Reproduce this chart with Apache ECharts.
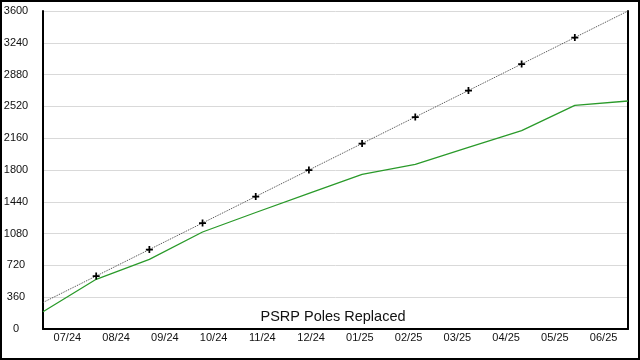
<!DOCTYPE html>
<html>
<head>
<meta charset="utf-8">
<script src="https://cdn.jsdelivr.net/npm/echarts@6/dist/echarts.min.js"></script>
<style>
html,body{margin:0;padding:0;background:#fff;}
#c{width:640px;height:360px;}
</style>
</head>
<body>
<div id="c"></div>
<script>
var months = ['07/24','08/24','09/24','10/24','11/24','12/24','01/25','02/25','03/25','04/25','05/25','06/25'];
var replaced = [196, 563, 789, 1098, 1319, 1536, 1751, 1864, 2055, 2245, 2532, 2581];
var target = [300, 600, 900, 1200, 1500, 1800, 2100, 2400, 2700, 3000, 3300, 3600];
var titleText = 'PSRP Poles Replaced';

var plus = 'path://M3,0h2v3h3v2h-3v3h-2v-3h-3v-2h3z';
var targetData = target.map(function (v, i) {
  if (i === 0 || i === target.length - 1) return { value: v, symbol: 'none' };
  return v;
});

var chart = echarts.init(document.getElementById('c'), null, { renderer: 'canvas' });
chart.setOption({
  animation: false,
  backgroundColor: '#fff',
  textStyle: { fontFamily: 'Liberation Sans, Arial, sans-serif' },
  grid: { left: 43, right: 12, top: 11, bottom: 31, containLabel: false },
  xAxis: [
    {
      type: 'category', data: months, boundaryGap: true,
      axisLine: { show: true, lineStyle: { color: '#000', width: 2 } },
      axisTick: { show: false },
      axisLabel: { color: '#111', fontSize: 11, margin: 3, fontFamily: 'Liberation Sans, Arial, sans-serif' },
      splitLine: { show: false }
    },
    {
      type: 'category', data: months, boundaryGap: false, show: false
    }
  ],
  yAxis: [
    {
      type: 'value', min: 0, max: 3600, interval: 360,
      axisLine: { show: true, lineStyle: { color: '#000', width: 2 } },
      axisTick: { show: false },
      axisLabel: { color: '#111', fontSize: 11, margin: 27, align: 'center', fontFamily: 'Liberation Sans, Arial, sans-serif',
        formatter: function (v) { return String(v); } },
      splitLine: { show: true, lineStyle: { color: '#d9d9d9', width: 1 } }
    },
    {
      type: 'value', min: 0, max: 3600, interval: 360, position: 'right',
      axisLine: { show: true, lineStyle: { color: '#000', width: 2 } },
      axisTick: { show: false }, axisLabel: { show: false }, splitLine: { show: false }
    }
  ],
  series: [
    {
      name: 'Target', type: 'line', xAxisIndex: 1, yAxisIndex: 0,
      data: targetData,
      symbol: plus, symbolSize: 7, showSymbol: true,
      itemStyle: { color: '#000' },
      lineStyle: { color: '#444', width: 1, type: 'dotted' },
      z: 3
    },
    {
      name: 'Replaced', type: 'line', xAxisIndex: 1, yAxisIndex: 0,
      data: replaced, symbol: 'none',
      lineStyle: { color: '#2a9a2a', width: 1.3 },
      z: 2
    }
  ],
  graphic: [
    {
      type: 'text', x: 333, y: 317,
      style: { text: titleText, fontSize: 14.5, fill: '#111', textAlign: 'center', textVerticalAlign: 'middle', fontFamily: 'Liberation Sans, Arial, sans-serif' },
      z: 10
    },
    {
      type: 'rect', shape: { x: 1, y: 1, width: 638, height: 358 },
      style: { fill: 'none', stroke: '#000', lineWidth: 2 }, z: 20
    }
  ]
});
</script>
</body>
</html>
